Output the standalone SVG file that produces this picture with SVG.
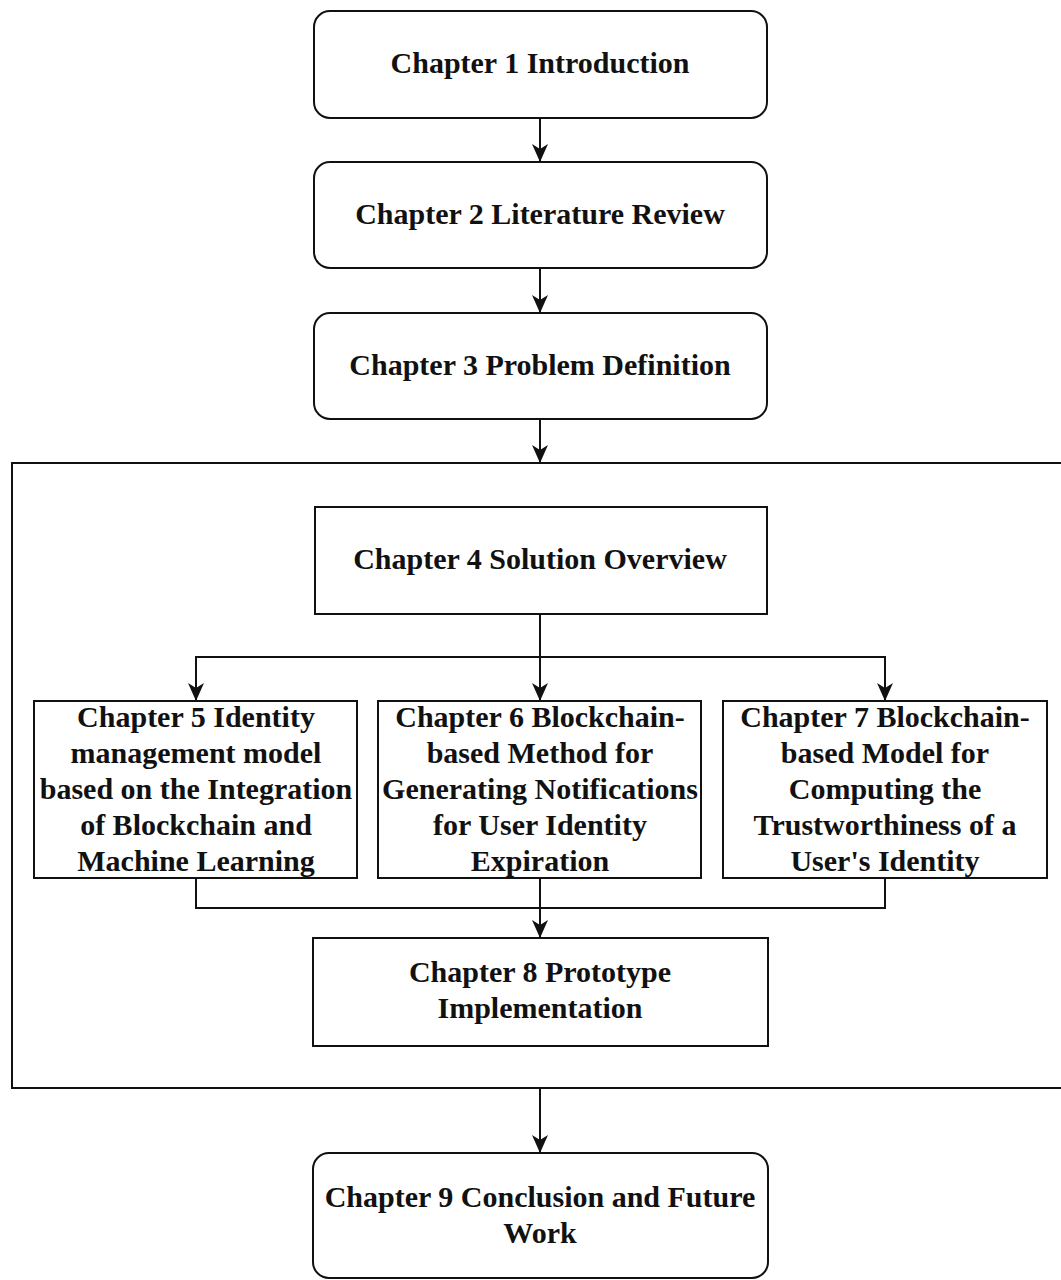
<svg xmlns="http://www.w3.org/2000/svg" width="1061" height="1280" viewBox="0 0 1061 1280">
<style>
.box{fill:#fff;stroke:#111;stroke-width:2}
.cont{fill:none;stroke:#111;stroke-width:2}
.t{font-family:"Liberation Serif","Times New Roman",serif;font-weight:bold;font-size:30px;fill:#111;text-anchor:middle}
.c{fill:none;stroke:#111;stroke-width:2}
</style>
<defs>
<marker id="ah" markerUnits="userSpaceOnUse" viewBox="0 0 18 16" refX="18" refY="8" markerWidth="18" markerHeight="16" orient="auto">
<path d="M0,0 L18,8 L0,16 L5,8 Z" fill="#111"/>
</marker>
</defs>
<rect width="1061" height="1280" fill="#fff"/>
<g id="container"><rect class="cont" x="12" y="463" width="1070" height="625"/></g>
<g id="connectors">
<path class="c" d="M540,118 V162" marker-end="url(#ah)"/>
<path class="c" d="M540,268 V313" marker-end="url(#ah)"/>
<path class="c" d="M540,419 V463" marker-end="url(#ah)"/>
<path class="c" d="M540,614 V701" marker-end="url(#ah)"/>
<path class="c" d="M196,701 V657 H885 V701"/>
<path class="c" d="M196,657 V701" marker-end="url(#ah)"/>
<path class="c" d="M885,657 V701" marker-end="url(#ah)"/>
<path class="c" d="M196,878 V908 H885 V878"/>
<path class="c" d="M540,878 V938" marker-end="url(#ah)"/>
<path class="c" d="M540,1088 V1153" marker-end="url(#ah)"/>
</g>
<g id="ch1"><rect class="box" x="314" y="11" width="453" height="107" rx="16"/><text class="t" x="540" y="73">Chapter 1 Introduction</text></g>
<g id="ch2"><rect class="box" x="314" y="162" width="453" height="106" rx="16"/><text class="t" x="540" y="224">Chapter 2 Literature Review</text></g>
<g id="ch3"><rect class="box" x="314" y="313" width="453" height="106" rx="16"/><text class="t" x="540" y="375">Chapter 3 Problem Definition</text></g>
<g id="ch4"><rect class="box" x="315" y="507" width="452" height="107"/><text class="t" x="540" y="569">Chapter 4 Solution Overview</text></g>
<g id="ch5"><rect class="box" x="34" y="701" width="323" height="177"/>
<text class="t" x="196" y="727">Chapter 5 Identity</text>
<text class="t" x="196" y="763">management model</text>
<text class="t" x="196" y="799">based on the Integration</text>
<text class="t" x="196" y="835">of Blockchain and</text>
<text class="t" x="196" y="871">Machine Learning</text></g>
<g id="ch6"><rect class="box" x="378" y="701" width="323" height="177"/>
<text class="t" x="540" y="727">Chapter 6 Blockchain-</text>
<text class="t" x="540" y="763">based Method for</text>
<text class="t" x="540" y="799">Generating Notifications</text>
<text class="t" x="540" y="835">for User Identity</text>
<text class="t" x="540" y="871">Expiration</text></g>
<g id="ch7"><rect class="box" x="723" y="701" width="324" height="177"/>
<text class="t" x="885" y="727">Chapter 7 Blockchain-</text>
<text class="t" x="885" y="763">based Model for</text>
<text class="t" x="885" y="799">Computing the</text>
<text class="t" x="885" y="835">Trustworthiness of a</text>
<text class="t" x="885" y="871">User's Identity</text></g>
<g id="ch8"><rect class="box" x="313" y="938" width="455" height="108"/>
<text class="t" x="540" y="982">Chapter 8 Prototype</text>
<text class="t" x="540" y="1018">Implementation</text></g>
<g id="ch9"><rect class="box" x="313" y="1153" width="455" height="125" rx="16"/>
<text class="t" x="540" y="1207">Chapter 9 Conclusion and Future</text>
<text class="t" x="540" y="1243">Work</text></g>
</svg>
